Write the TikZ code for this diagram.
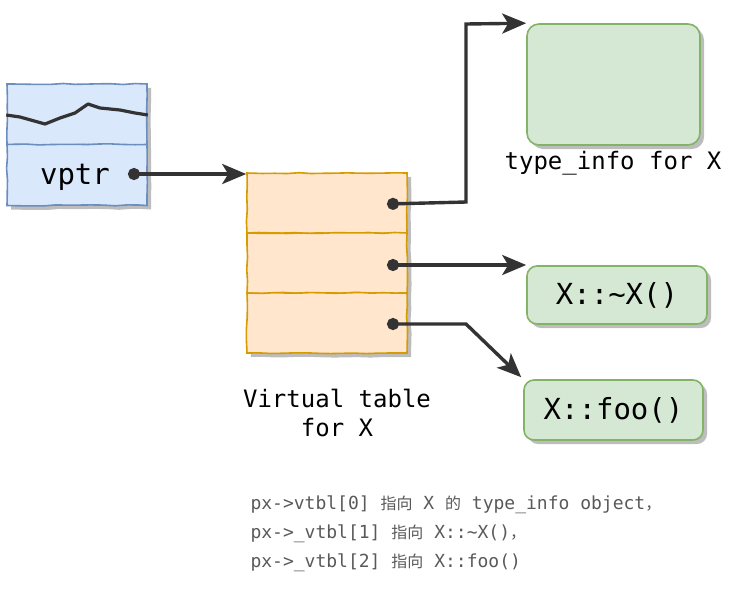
\documentclass[tikz,border=0pt]{standalone}
\usepackage{fontspec}
\setmonofont{DejaVu Sans Mono}
\newfontfamily\cjk{Noto Sans CJK SC}
\usetikzlibrary{arrows.meta,decorations.pathmorphing,calc,shadows}
\definecolor{bluefill}{HTML}{DAE8FC}
\definecolor{bluedraw}{HTML}{6C8EBF}
\definecolor{orfill}{HTML}{FFE6CC}
\definecolor{ordraw}{HTML}{D79B00}
\definecolor{grfill}{HTML}{D5E8D4}
\definecolor{grdraw}{HTML}{82B366}
\definecolor{ink}{HTML}{333333}
\definecolor{shade}{HTML}{BDBDBD}
\definecolor{note}{HTML}{595959}
\newcommand{\cj}[1]{{\cjk\fontsize{16}{29}\selectfont #1}}
\begin{document}
\begin{tikzpicture}[x=1pt,y=-1pt,
  sketch/.style={decorate,decoration={random steps,segment length=12pt,amplitude=0.6pt}},
  shd/.style={drop shadow={shadow xshift=4pt,shadow yshift=-4pt,fill=shade,opacity=1}},
  cell/.style={rectangle,inner sep=0pt,line width=1.6pt,sketch,shd},
  blucell/.style={cell,draw=bluedraw,fill=bluefill,minimum width=140pt,minimum height=61pt},
  orcell/.style={cell,draw=ordraw,fill=orfill,minimum width=160pt,minimum height=60pt},
  grbox/.style={rectangle,rounded corners=12pt,inner sep=0pt,line width=1.6pt,draw=grdraw,fill=grfill,shd},
  conn/.style={draw=ink,line width=3.4pt,{Circle[length=12pt]}-{Stealth[length=24pt,width=20pt,inset=6pt]}},
  lbl/.style={font=\ttfamily\fontsize{24}{29}\selectfont,text=black},
  biglbl/.style={font=\ttfamily\fontsize{29}{32}\selectfont,text=black},
  notetext/.style={font=\ttfamily\fontsize{18}{29}\selectfont,text=note,align=left}
]
\useasboundingbox (0,0) rectangle (738,590);

% ---- object (blue) ----
\node[blucell] (objtop) at (77,114.5) {};
\node[blucell] (objvptr) at (77,175) {};
\node[biglbl] (vptrtxt) at (75,177) {vptr};
\draw[ink,line width=3.2pt,line join=round]
  (objtop.west |- 0,115) -- (20,117) -- (45,124) -- (60,118) -- (75,113) -- (88,104)
  -- (100,108) -- (120,110) -- (135,113) -- (objtop.east |- 0,115);
\coordinate (vptrdot) at (128,174);

% ---- virtual table (orange) ----
\node[orcell] (vt0) at (327,203) {};
\node[orcell] (vt1) at (327,263) {};
\node[orcell] (vt2) at (327,323) {};
\coordinate (d0) at (387,204);
\coordinate (d1) at (387,265);
\coordinate (d2) at (387,324);
\node[lbl,align=center] (vtlbl) at (337,413) {Virtual table\\for X};

% ---- targets (green) ----
\node[grbox,minimum width=173pt,minimum height=121pt] (tinfo) at (613.5,84.5) {};
\node[lbl] (tinfolbl) at (613,163) {type\_info for X};
\node[grbox,rounded corners=10pt,minimum width=180pt,minimum height=58pt,biglbl] (dtor) at (617,295) {X::\textasciitilde X()};
\node[grbox,rounded corners=10pt,minimum width=179pt,minimum height=60pt,biglbl] (foo) at (613.5,410) {X::foo()};

% ---- connectors ----
\draw[conn] (vptrdot) -- (vt0.north west |- vptrdot);
\draw[conn] (d0) -- (466,202) -- (466,24) -- (tinfo.north west);
\draw[conn] (d1) -- (dtor.north west |- d1);
\draw[conn] (d2) -- (466,324) -- ($(foo.north west)+(-2,-2)$);

% ---- note ----
\node[notetext,anchor=north west] (note) at (247,492) {%
px->vtbl[0] \cj{指向} X \cj{的} type\_info object\cj{，}\\
px->\_vtbl[1] \cj{指向} X::\textasciitilde X()\cj{，}\\
px->\_vtbl[2] \cj{指向} X::foo()};
\end{tikzpicture}
\end{document}
